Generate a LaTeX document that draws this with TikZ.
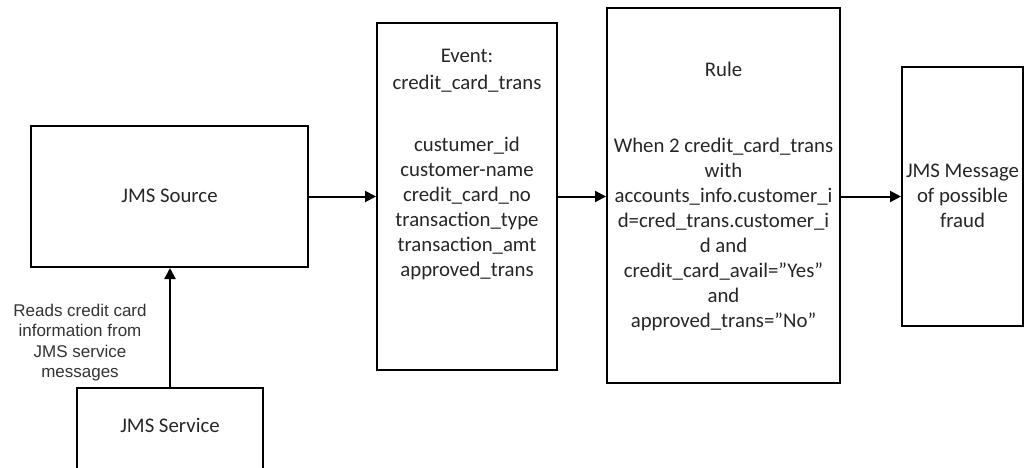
\documentclass[tikz,border=0pt]{standalone}
\usepackage{fontspec}
\newfontfamily\boxfont{Carlito}
\newfontfamily\labfont{Liberation Sans}
\usetikzlibrary{arrows.meta}
\tikzset{
  boxline/.style={draw=black, line width=2pt},
  boxtext/.style={align=center, text=black!85, font=\boxfont\fontsize{20.8}{25}\selectfont, inner sep=0pt},
  labtext/.style={align=center, text=black!80, font=\labfont\fontsize{17}{20.5}\selectfont, inner sep=0pt},
  conn/.style={line width=2pt, -{Triangle[length=11pt,width=11pt]}}
}
\begin{document}
\begin{tikzpicture}[x=1pt,y=-1pt]
\useasboundingbox (0,0) rectangle (1025,468);
\clip (0,0) rectangle (1025,468);
% boxes
\node[boxline, minimum width=277pt, minimum height=141pt, inner sep=0pt] (src) at (169.5,196.5) {};
\node[boxline, minimum width=180pt, minimum height=347pt, inner sep=0pt] (evt) at (467,196.5) {};
\node[boxline, minimum width=233pt, minimum height=375pt, inner sep=0pt] (rule) at (723.5,195.5) {};
\node[boxline, minimum width=121pt, minimum height=259pt, inner sep=0pt] (msg) at (962.5,196.5) {};
\node[boxline, minimum width=186pt, minimum height=110pt, inner sep=0pt] (svc) at (170,443) {};
% texts
\node[boxtext] (srct) at (169.5,196) {JMS Source};
\node[boxtext] (svct) at (170,425) {JMS Service};
\node[boxtext, font=\boxfont\fontsize{20.8}{27}\selectfont] (evth) at (467,70.5) {Event:\\credit\_card\_trans};
\node[boxtext] (evtb) at (467,208.5) {custumer\_id\\customer-name\\credit\_card\_no\\transaction\_type\\transaction\_amt\\approved\_trans};
\node[boxtext] (ruleh) at (723.5,69) {Rule};
\node[boxtext] (ruleb) at (723.5,234) {When 2 credit\_card\_trans\\with\\accounts\_info.customer\_i\\d=cred\_trans.customer\_i\\d and\\credit\_card\_avail=”Yes”\\and\\approved\_trans=”No”};
\node[boxtext] (msgt) at (962.5,196) {JMS Message\\of possible\\fraud};
\node[labtext] (lab) at (80,342.5) {Reads credit card\\information from\\JMS service\\messages};
% connectors
\draw[conn] (src.east) -- (evt.west);
\draw[conn] (evt.west -| evt.east) -- (rule.west |- evt.east);
\draw[conn] (rule.east |- msg.west) -- (msg.west);
\draw[conn] (svc.north) -- (src.south -| svc.north);
\end{tikzpicture}
\end{document}
